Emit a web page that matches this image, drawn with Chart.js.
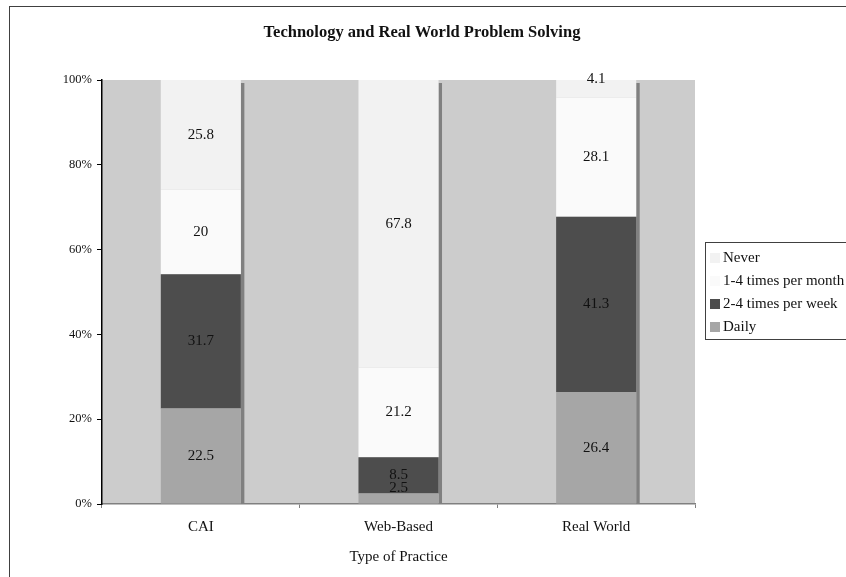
<!DOCTYPE html>
<html>
<head>
<meta charset="utf-8">
<style>
  html, body { margin: 0; padding: 0; background: #ffffff; }
  canvas { display: block; }
</style>
<script src="https://cdn.jsdelivr.net/npm/chart.js@4.4.1/dist/chart.umd.min.js"></script>
</head>
<body>
<canvas id="chart" width="846" height="577"></canvas>
<script>
// Categories and series (percent of respondents)
const categories = ['CAI', 'Web-Based', 'Real World'];
const daily = [22.5, 2.5, 26.4];
const perWeek = [31.7, 8.5, 41.3];
const perMonth = [20, 21.2, 28.1];
const never = [25.8, 67.8, 4.1];
const seriesNames = ['Daily', '2-4 times per week', '1-4 times per month', 'Never'];
const yTicks = [0, 20, 40, 60, 80, 100];
const chartTitle = 'Technology and Real World Problem Solving';

const seriesValues = [daily, perWeek, perMonth, never];
const seriesColors = ['#a6a6a6', '#4d4d4d', '#fafafa', '#f2f2f2'];
const totals = categories.map((_, i) => seriesValues.reduce((s, arr) => s + arr[i], 0));

const SERIF = '"Liberation Serif", "Times New Roman", serif';

// 100% stacked: each segment is its share of the category total
const datasets = seriesValues.map((vals, k) => ({
  label: seriesNames[k],
  raw: vals,
  data: vals.map((v, i) => v / totals[i] * 100),
  backgroundColor: seriesColors[k],
  borderWidth: 0,
  categoryPercentage: 1,
  barPercentage: 0.405
}));

const framePlugin = {
  id: 'frame',
  beforeDraw(chart) {
    const { ctx, chartArea: a } = chart;
    ctx.save();
    ctx.fillStyle = '#ffffff';
    ctx.fillRect(0, 0, chart.width, chart.height);
    ctx.strokeStyle = '#404040';
    ctx.lineWidth = 1;
    ctx.strokeRect(9.5, 6.5, chart.width + 10, chart.height + 10);
    ctx.fillStyle = '#cccccc';
    ctx.fillRect(a.left, a.top, a.right - a.left, a.bottom - a.top);
    // chart title, centred on the whole page
    ctx.font = 'bold 16.5px ' + SERIF;
    ctx.fillStyle = '#111111';
    ctx.textAlign = 'center';
    ctx.textBaseline = 'middle';
    ctx.fillText(chartTitle, 422, 33);
    ctx.restore();
  },
  beforeDatasetsDraw(chart) {
    // drop shadow on the right side of every stacked column
    const { ctx } = chart;
    const first = chart.getDatasetMeta(0).data;
    const last = chart.getDatasetMeta(chart.data.datasets.length - 1).data;
    ctx.save();
    ctx.fillStyle = '#808080';
    first.forEach((bar, i) => {
      const p = bar.getProps(['x', 'width', 'base'], true);
      const top = last[i].getProps(['y'], true).y;
      const right = p.x + p.width / 2;
      ctx.fillRect(right, top + 3, 3.5, p.base - top - 3);
    });
    ctx.restore();
  },
  afterDatasetsDraw(chart) {
    // value labels centred in each segment; thin segments get nudged upward
    const { ctx } = chart;
    ctx.save();
    ctx.font = '15px ' + SERIF;
    ctx.fillStyle = '#111111';
    ctx.textAlign = 'center';
    ctx.textBaseline = 'middle';
    chart.data.datasets.forEach((ds, k) => {
      chart.getDatasetMeta(k).data.forEach((bar, i) => {
        const p = bar.getProps(['x', 'y', 'base'], true);
        const h = p.base - p.y;
        let y = (p.y + p.base) / 2;
        if (h < 22) y -= 10;
        ctx.fillText(String(ds.raw[i]), p.x, y);
      });
    });
    ctx.restore();
  },
  afterDraw(chart) {
    // legend box, listed from the top series down
    const { ctx } = chart;
    const boxX = 705.5, boxY = 242.5, boxW = 160, boxH = 97;
    ctx.save();
    ctx.strokeStyle = '#404040';
    ctx.lineWidth = 1;
    ctx.fillStyle = '#ffffff';
    ctx.fillRect(boxX, boxY, boxW, boxH);
    ctx.strokeRect(boxX, boxY, boxW, boxH);
    ctx.font = '15px ' + SERIF;
    ctx.textBaseline = 'middle';
    ctx.textAlign = 'left';
    const items = chart.data.datasets.slice().reverse();
    items.forEach((ds, j) => {
      const cy = 258 + j * 23;
      ctx.fillStyle = ds.backgroundColor;
      ctx.fillRect(710, cy - 5, 10, 10);
      ctx.fillStyle = '#111111';
      ctx.fillText(ds.label, 723, cy);
    });
    ctx.restore();
  }
};

new Chart(document.getElementById('chart'), {
  type: 'bar',
  data: { labels: categories, datasets },
  plugins: [framePlugin],
  options: {
    responsive: false,
    animation: false,
    layout: { padding: { left: 0, right: 151, top: 80, bottom: 0 } },
    plugins: {
      legend: { display: false },
      tooltip: { enabled: false },
      title: { display: false }
    },
    scales: {
      x: {
        stacked: true,
        afterFit: s => { s.height = 73; },
        grid: { offset: true, drawOnChartArea: false, drawTicks: true, tickLength: 4, color: '#808080' },
        border: { display: true, color: '#808080', width: 1.5 },
        ticks: { color: '#111111', font: { family: SERIF, size: 15 }, padding: 10 },
        title: {
          display: true,
          text: 'Type of Practice',
          color: '#111111',
          font: { family: SERIF, size: 15 },
          padding: { top: 0, bottom: 11 }
        }
      },
      y: {
        stacked: true,
        min: 0,
        max: 100,
        afterFit: s => { s.width = 102; },
        afterBuildTicks: s => { s.ticks = yTicks.map(v => ({ value: v })); },
        grid: { drawOnChartArea: false, drawTicks: true, tickLength: 5, color: '#000000' },
        border: { display: true, color: '#000000', width: 1.5 },
        ticks: { color: '#111111', font: { family: SERIF, size: 12.5 }, padding: 5, callback: v => v + '%' }
      }
    }
  }
});
</script>
</body>
</html>
